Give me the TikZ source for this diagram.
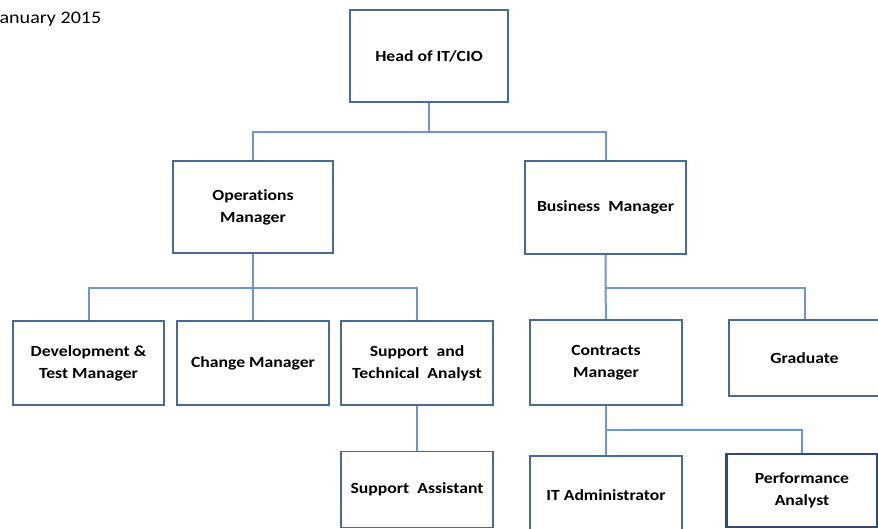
\documentclass[tikz,border=0pt]{standalone}
\usepackage{fontspec}
\setmainfont{Carlito}[FakeStretch=1.14, Ligatures=NoCommon]
\usetikzlibrary{positioning}
\definecolor{boxblue}{HTML}{4A6A96}
\definecolor{darkblue}{HTML}{2E4A75}
\definecolor{linkblue}{HTML}{7097CB}
\tikzset{
  role/.style={draw=boxblue, line width=1.6pt, fill=white, align=center,
    inner sep=0pt, font=\bfseries\fontsize{15.5}{22}\selectfont, text=black},
  conn/.style={draw=linkblue, line width=2pt},
}
\begin{document}
\begin{tikzpicture}[x=1pt,y=-1pt]
\useasboundingbox (0,0) rectangle (878,529);
\node[anchor=base west, inner sep=0pt, font=\fontsize{17.6}{20}\selectfont] (date) at (-7,24) {January 2015};
% boxes
\node[role, minimum width=158pt, minimum height=92pt] (head) at (429,56) {Head of IT/CIO};
\node[role, minimum width=160pt, minimum height=92pt] (ops) at (253,207) {Operations\\Manager};
\node[role, minimum width=161pt, minimum height=93pt] (bus) at (605.5,207.5) {Business\ \ Manager};
\node[role, minimum width=151pt, minimum height=84pt] (dev) at (88.5,363) {Development \&\\Test Manager};
\node[role, minimum width=152pt, minimum height=84pt] (chg) at (253,363) {Change Manager};
\node[role, minimum width=152pt, minimum height=84pt] (sup) at (417,363) {Support\ \ and\\Technical\ \ Analyst};
\node[role, minimum width=152pt, minimum height=76pt] (sa) at (417,489.5) {Support\ \ Assistant};
\node[role, minimum width=152pt, minimum height=85pt] (con) at (606,362.5) {Contracts\\Manager};
\node[role, minimum width=151pt, minimum height=76pt] (grad) at (804.5,358) {Graduate};
\node[role, minimum width=152pt, minimum height=79pt] (ita) at (606,495.5) {IT Administrator};
\node[role, draw=darkblue, line width=2.6pt, minimum width=151pt, minimum height=73pt] (perf) at (802,490.5) {Performance\\Analyst};
% junctions
\coordinate (j1) at (429,132);
\coordinate (j2) at (253,288);
\coordinate (j3) at (605.5,288);
\coordinate (j4) at (606,430);
% connectors
\draw[conn] (head.south) -- (j1);
\draw[conn] (ops.north) |- (j1) -| (bus.north);
\draw[conn] (ops.south) -- (j2);
\draw[conn] (dev.north) |- (j2) -| (sup.north);
\draw[conn] (j2) -- (chg.north);
\draw[conn] (sup.south) -- (sa.north);
\draw[conn] (bus.south) -- (j3) -- (con.north);
\draw[conn] (j3) -| (grad.north);
\draw[conn] (con.south) -- (j4) -- (ita.north);
\draw[conn] (j4) -| (perf.north);
\end{tikzpicture}
\end{document}
